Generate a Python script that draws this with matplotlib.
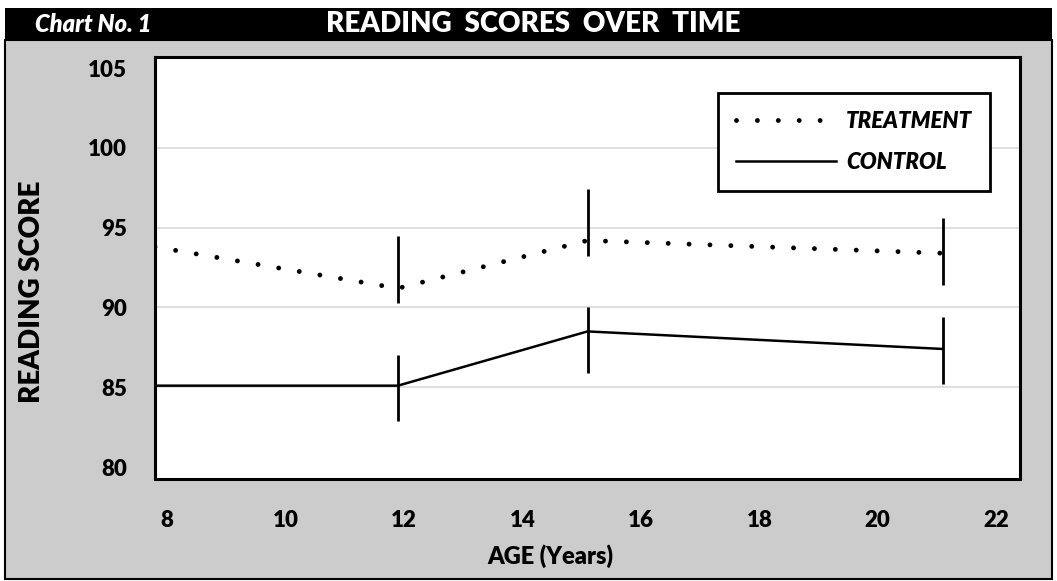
import matplotlib
matplotlib.use('Agg')
import matplotlib.pyplot as plt
from matplotlib.patches import Rectangle

plt.rcParams['font.family'] = ['Lato', 'DejaVu Sans']

# data
age = [7.8, 11.9, 15.1, 21.1]
treatment = [93.8, 91.2, 94.2, 93.4]
control = [85.1, 85.1, 88.5, 87.4]

bar_age = [11.9, 15.1, 21.1]
treat_lo = [90.3, 93.2, 91.4]
treat_hi = [94.5, 97.4, 95.6]
ctrl_lo = [82.9, 85.9, 85.2]
ctrl_hi = [87.0, 90.0, 89.4]

x_ticks = [8, 10, 12, 14, 16, 18, 20, 22]
y_ticks = [80, 85, 90, 95, 100, 105]
grid_y = [85, 90, 95, 100]

GRAY = '#cccccc'

fig = plt.figure(figsize=(10.57, 5.81), dpi=100)
fig.patch.set_facecolor('white')

W, H = 1057, 581
# gray panel with black outline, black title bar on top
fig.patches.append(Rectangle((5 / W, 2 / H), 1047 / W, 539 / H, transform=fig.transFigure,
                             facecolor=GRAY, edgecolor='black', linewidth=1.5, zorder=-10))
fig.patches.append(Rectangle((5 / W, 1 - 41 / H), 1047 / W, 33 / H, transform=fig.transFigure,
                             facecolor='black', edgecolor='black', linewidth=0, zorder=-9))
fig.text(35 / W, 1 - 24 / H, 'Chart No. 1', color='white', fontsize=17,
         fontweight='heavy', fontstyle='italic', va='center', ha='left')
fig.text(533 / W, 1 - 24 / H, 'READING  SCORES  OVER  TIME', color='white', fontsize=20,
         fontweight='heavy', va='center', ha='center')

ax = fig.add_axes([155 / W, 1 - 479 / H, 865 / W, 422 / H])
ax.set_facecolor('white')
ax.set_xlim(7.8, 22.4)
ax.set_ylim(79.25, 105.7)

for g in grid_y:
    ax.axhline(g, color='#d9d9d9', linewidth=1.2, zorder=1)

ax.plot(age, treatment, color='black', linewidth=3.5, linestyle=(0, (0.001, 4.3)),
        dash_capstyle='round', solid_capstyle='round', label='TREATMENT', zorder=3)
ax.plot(age, control, color='black', linewidth=1.8, label='CONTROL', zorder=3)

ax.vlines(bar_age, treat_lo, treat_hi, color='black', linewidth=2, zorder=4)
ax.vlines(bar_age, ctrl_lo, ctrl_hi, color='black', linewidth=2, zorder=4)

ax.set_xticks(x_ticks)
ax.set_yticks(y_ticks)
ax.tick_params(length=0, labelsize=16, pad=22)
ax.tick_params(axis='y', pad=20)
for lab in ax.get_xticklabels() + ax.get_yticklabels():
    lab.set_fontweight('heavy')

for s in ax.spines.values():
    s.set_linewidth(2.2)
    s.set_color('black')

ax.set_xlabel('AGE (Years)', fontsize=17, fontweight='heavy')
ax.xaxis.set_label_coords(0.4566, -0.154)
ax.set_ylabel('READING SCORE', fontsize=20, fontweight='heavy')
ax.yaxis.set_label_coords(-0.127, 0.443)

leg = ax.legend(loc='upper right', bbox_to_anchor=(0.9653, 0.9147), borderaxespad=0,
                handlelength=4.5, handletextpad=0.45, labelspacing=0.9, borderpad=0.8,
                fancybox=False, framealpha=1, edgecolor='black',
                prop={'weight': 'heavy', 'style': 'italic', 'size': 16})
leg.get_frame().set_linewidth(2)

fig.savefig('out.png', dpi=100, facecolor=fig.get_facecolor())
